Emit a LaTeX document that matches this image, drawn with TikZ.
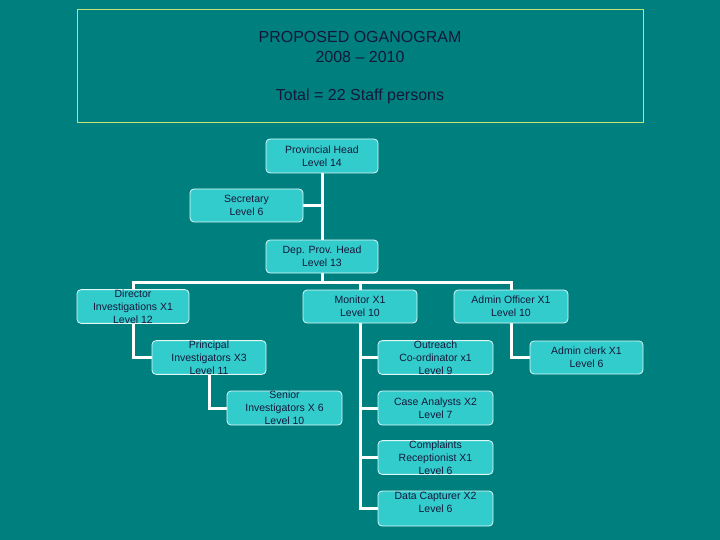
\documentclass[tikz,border=0pt]{standalone}
\usepackage{fontspec}
\setmainfont{Liberation Sans}
\usetikzlibrary{backgrounds}
\definecolor{bgteal}{HTML}{007F7F}
\definecolor{boxcyan}{HTML}{33CCCC}
\definecolor{txtdark}{HTML}{14183A}
\definecolor{titleborder}{HTML}{C6E27A}
\pgfdeclarelayer{bglayer}
\pgfsetlayers{bglayer,main}
\begin{document}
\begin{tikzpicture}[x=1pt,y=-1pt,
  orgbox/.style={draw=white!85!boxcyan, line width=0.8pt, fill=boxcyan, rounded corners=4pt,
    inner sep=0pt, align=center, text=txtdark, font=\fontsize{10.5}{13}\selectfont},
  link/.style={draw=white, line width=3pt}]
\begin{pgfonlayer}{bglayer}
\fill[bgteal] (0,0) rectangle (720,540);
\end{pgfonlayer}
\useasboundingbox (0,0) rectangle (720,540);
\node[draw=titleborder, line width=0.8pt, minimum width=566pt, minimum height=113pt, inner sep=0pt] (title) at (360,65.5) {};
\node[text=txtdark, font=\fontsize{16}{20}\selectfont, align=center] (t1) at (360,47) {PROPOSED OGANOGRAM\\2008 -- 2010};
\node[text=txtdark, font=\fontsize{16}{20}\selectfont] (t2) at (360,96) {Total = 22 Staff persons};

\node[orgbox, minimum width=112pt, minimum height=34pt] (ph) at (322,156) {Provincial Head\\Level 14};
\node[orgbox, minimum width=113pt, minimum height=33pt] (sec) at (246.5,205.5) {Secretary\\Level 6};
\node[orgbox, minimum width=112pt, minimum height=33pt] (dph) at (322,256.5) {Dep. Prov. Head\\Level 13};
\node[orgbox, minimum width=112pt, minimum height=33pt] (dir) at (133,306.5) {Director\\Investigations X1\\Level 12};
\node[orgbox, minimum width=114pt, minimum height=33pt] (mon) at (360,306.5) {Monitor X1\\Level 10};
\node[orgbox, minimum width=114pt, minimum height=33pt] (ao) at (511,306.5) {Admin Officer X1\\Level 10};
\node[orgbox, minimum width=113pt, minimum height=33pt] (ac) at (586.5,357.5) {Admin clerk X1\\Level 6};
\node[orgbox, minimum width=114pt, minimum height=33pt] (pi) at (209,357.5) {Principal\\Investigators X3\\Level 11};
\node[orgbox, minimum width=115pt, minimum height=34pt] (si) at (284.5,408) {Senior\\Investigators X 6\\Level 10};
\node[orgbox, minimum width=115pt, minimum height=33pt] (out) at (435.5,357.5) {Outreach\\Co-ordinator x1\\Level 9};
\node[orgbox, minimum width=115pt, minimum height=34pt] (ca) at (435.5,408) {Case Analysts X2\\Level 7};
\node[orgbox, minimum width=115pt, minimum height=33pt] (cr) at (435.5,457.5) {Complaints\\Receptionist X1\\Level 6};
\node[orgbox, minimum width=115pt, minimum height=35pt] (dc) at (435.5,508.5) {Data Capturer X2\\Level 6\\\mbox{}};

\coordinate (bar) at (322,282);
\begin{pgfonlayer}{bglayer}
\draw[link] (ph.south) -- (dph.north);
\draw[link] (sec.east) -- (ph.south |- sec.east);
\draw[link] (dph.south) -- (bar);
\draw[link] (dir.north) |- (ao.north |- bar) -- (ao.north);
\draw[link] (mon.north |- bar) -- (mon.north);
\draw[link] (dir.south) |- (pi.west);
\draw[link] (pi.south) |- (si.west);
\draw[link] (ao.south) |- (ac.west);
\draw[link] (mon.south) |- (dc.west);
\draw[link] (mon.south |- out.west) -- (out.west);
\draw[link] (mon.south |- ca.west) -- (ca.west);
\draw[link] (mon.south |- cr.west) -- (cr.west);
\end{pgfonlayer}
\end{tikzpicture}
\end{document}
